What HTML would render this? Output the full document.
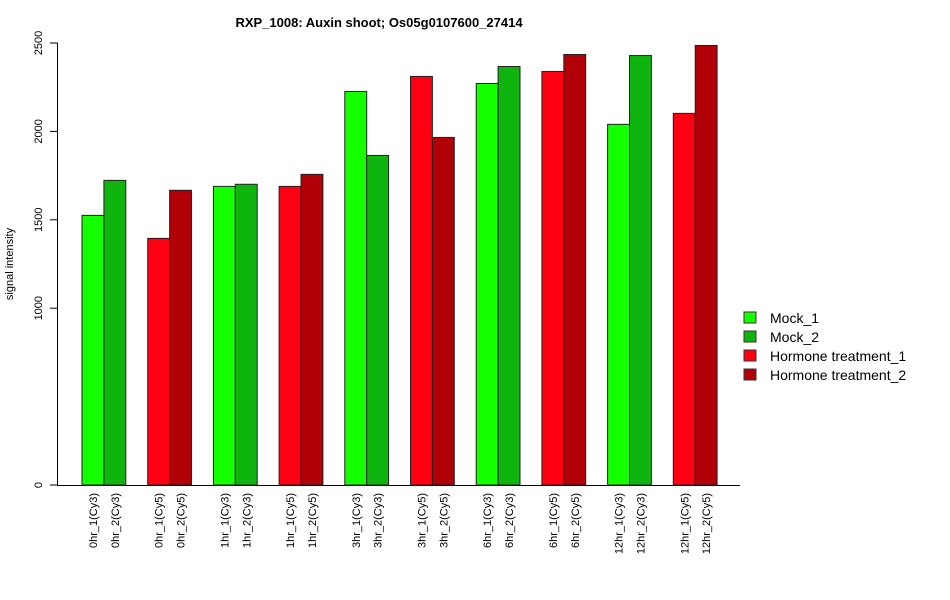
<!DOCTYPE html>
<html><head><meta charset="utf-8"><style>body{margin:0;background:#fff}svg{display:block;font-family:"Liberation Sans",Arial,sans-serif}</style></head>
<body>
<svg id="chart" width="950" height="600" viewBox="0 0 950 600" xmlns="http://www.w3.org/2000/svg">
<text x="379" y="27" font-size="13" font-weight="bold" text-anchor="middle">RXP_1008: Auxin shoot; Os05g0107600_27414</text>
<text transform="translate(13,264) rotate(-90)" font-size="11" text-anchor="middle">signal intensity</text>
<g id="plot"></g>
<g id="legend"></g>
</svg>
<script>
const labels = ["0hr_1(Cy3)","0hr_2(Cy3)","0hr_1(Cy5)","0hr_2(Cy5)","1hr_1(Cy3)","1hr_2(Cy3)","1hr_1(Cy5)","1hr_2(Cy5)","3hr_1(Cy3)","3hr_2(Cy3)","3hr_1(Cy5)","3hr_2(Cy5)","6hr_1(Cy3)","6hr_2(Cy3)","6hr_1(Cy5)","6hr_2(Cy5)","12hr_1(Cy3)","12hr_2(Cy3)","12hr_1(Cy5)","12hr_2(Cy5)"];
const values = [1525,1723,1395,1667,1689,1701,1689,1757,2226,1864,2311,1966,2271,2367,2339,2435,2040,2429,2102,2486];
const seriesIdx = [0,1,2,3,0,1,2,3,0,1,2,3,0,1,2,3,0,1,2,3];
const yTicks = [0,1000,1500,2000,2500];
const legendLabels = ["Mock_1","Mock_2","Hormone treatment_1","Hormone treatment_2"];
const colors = ["#14ff00","#10b40e","#ff0012","#b20008"];
const NS="http://www.w3.org/2000/svg";
const plot=document.getElementById('plot');
const y0=485, y2500=43;
function yScale(v){return y0-(v/2500)*(y0-y2500);}
const unit=21.9, xStart=60.1;
function xLeft(i){const g=Math.floor(i/2);return xStart+unit*(1+g*3+(i%2));}
function mk(tag,attrs){const e=document.createElementNS(NS,tag);for(const k in attrs)e.setAttribute(k,attrs[k]);return e;}
// axes
let ax=mk('line',{x1:57.5,y1:yScale(0),x2:57.5,y2:yScale(2500),stroke:'#000'});


plot.appendChild(ax);
let xa=mk('line',{x1:57,y1:485.5,x2:740,y2:485.5,stroke:'#000'});


plot.appendChild(xa);
yTicks.forEach(t=>{
  const y=yScale(t);
  const tk=mk('line',{x1:50,y1:y,x2:57.5,y2:y,stroke:'#000'});
  
  
  plot.appendChild(tk);
  const tx=mk('text',{transform:`translate(42,${y}) rotate(-90)`,'font-size':11,'text-anchor':'middle'});
  tx.textContent=t;
  
  
  plot.appendChild(tx);
});
values.forEach((v,i)=>{
  const x=xLeft(i), y=yScale(v);
  const r=mk('rect',{x:x,y:y,width:unit,height:y0-y,fill:colors[seriesIdx[i]],stroke:'#222','stroke-width':1});
  
  
  plot.appendChild(r);
  const cx=x+unit/2+4;
  const t=mk('text',{transform:`translate(${cx},493) rotate(-90)`,'font-size':11,'text-anchor':'end'});
  t.textContent=labels[i];
  
  
  plot.appendChild(t);
});
const lg=document.getElementById('legend');
legendLabels.forEach((l,i)=>{
  const y=312+i*19;
  const r=mk('rect',{x:744,y:y,width:12,height:11,fill:colors[i],stroke:'#333'});
  
  
  lg.appendChild(r);
  const t=mk('text',{x:770,y:y+11,'font-size':14});
  t.textContent=l;
  
  
  lg.appendChild(t);
});
</script>
</body></html>
